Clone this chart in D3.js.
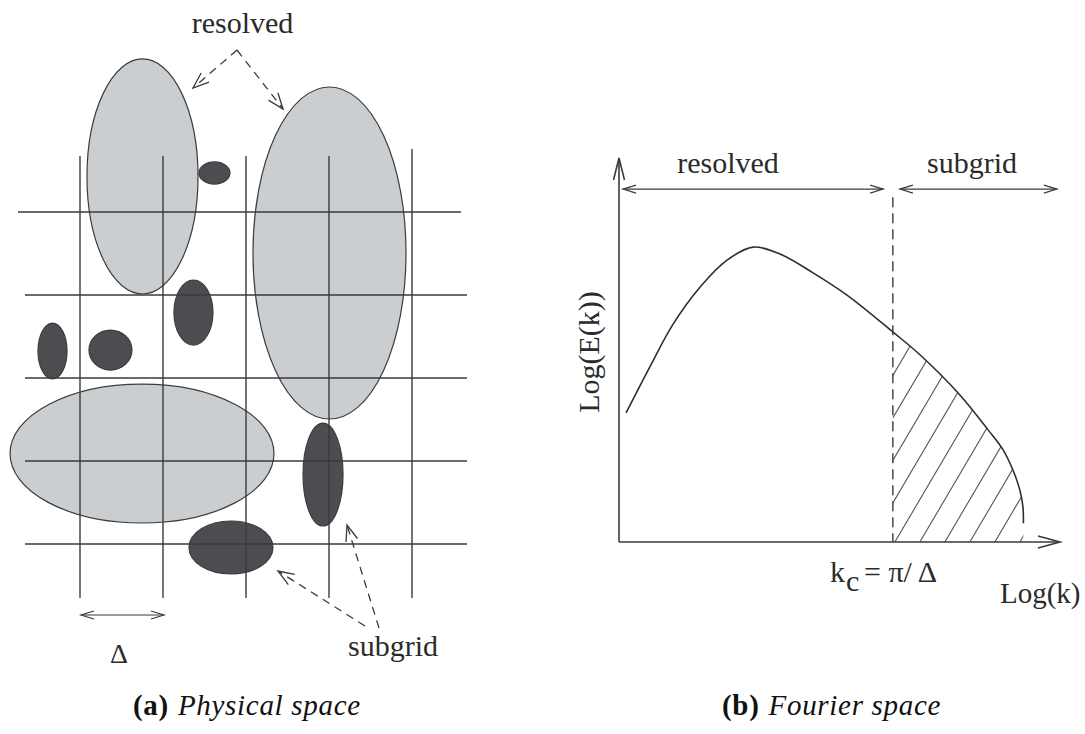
<!DOCTYPE html>
<html><head><meta charset="utf-8">
<script src="https://cdn.jsdelivr.net/npm/d3@7"></script>
<style>html,body{margin:0;padding:0;background:#fff;} svg{display:block;}</style>
</head><body>
<svg id="chart" width="1085" height="734"></svg>
<script>
// ---------- data ----------
// (a) physical space: grid lines in cell units, eddies in cell units
const gridIndex = [0, 1, 2, 3, 4];
const eddyKind = ["resolved","resolved","subgrid","subgrid","subgrid","subgrid","resolved","subgrid","subgrid"];
const eddyCx = [0.753, 3.006, 1.620, 1.367, -0.331, 0.367, 0.747, 2.928, 1.819];
const eddyCy = [-0.428, 0.494, -0.470, 1.211, 1.675, 1.663, 2.910, 3.163, 4.042];
const eddyRx = [0.669, 0.922, 0.187, 0.235, 0.175, 0.259, 1.590, 0.241, 0.506];
const eddyRy = [1.416, 2.000, 0.133, 0.392, 0.337, 0.241, 0.837, 0.620, 0.319];
// (b) Fourier space: energy spectrum log(E) vs log(k), arbitrary units 0..100
const spectrumLogK = [1.6, 7.0, 12.2, 18.4, 24.5, 30.4, 36.5, 44.0, 51.7, 62.1, 68.3, 77.3, 83.7, 87.1, 89.3, 90.9, 91.6, 91.7];
const spectrumLogE = [33.6, 45.6, 56.6, 66.4, 73.4, 76.8, 75.0, 70.1, 64.3, 54.7, 48.7, 38.3, 29.2, 24.0, 18.8, 13.5, 9.1, 4.9];
const cutoffLogK = 62.1;
const labelsA = {top: "resolved", bottom: "subgrid", delta: "Δ"};
const labelsB = {resolved: "resolved", subgrid: "subgrid", yAxis: "Log(E(k))", xAxis: "Log(k)"};
const captionTags = ["(a)", "(b)"];
const captionTexts = ["Physical space", "Fourier space"];

// ---------- drawing ----------
const svg = d3.select("#chart");
const FONT = "'Liberation Serif','Times New Roman',serif";
const INK = "#2b2b2b";

function arrow(g, x1, y1, x2, y2, opt) {
  opt = Object.assign({dash: null, end: true, start: false, len: 14, half: 5, w: 1.3, color: "#3a3a3a"}, opt || {});
  g.append("line").attr("x1", x1).attr("y1", y1).attr("x2", x2).attr("y2", y2)
    .attr("stroke", opt.color).attr("stroke-width", opt.w)
    .attr("stroke-dasharray", opt.dash);
  const head = (tx, ty, fx, fy) => {
    const dx = tx - fx, dy = ty - fy, L = Math.hypot(dx, dy), ux = dx / L, uy = dy / L;
    const bx = tx - ux * opt.len, by = ty - uy * opt.len;
    g.append("path")
      .attr("d", `M${bx - uy * opt.half},${by + ux * opt.half}L${tx},${ty}L${bx + uy * opt.half},${by - ux * opt.half}`)
      .attr("fill", "none").attr("stroke", opt.color).attr("stroke-width", opt.w);
  };
  if (opt.end) head(x2, y2, x1, y1);
  if (opt.start) head(x1, y1, x2, y2);
}

// ----- panel (a) -----
const xA = d3.scaleLinear().domain([0, 4]).range([80, 412]);
const yA = d3.scaleLinear().domain([0, 4]).range([212, 544]);
const gA = svg.append("g");

const eddies = eddyKind.map((k, i) => ({kind: k, cx: eddyCx[i], cy: eddyCy[i], rx: eddyRx[i], ry: eddyRy[i]}));
gA.selectAll("ellipse").data(eddies).join("ellipse")
  .attr("cx", d => xA(d.cx)).attr("cy", d => yA(d.cy))
  .attr("rx", d => xA(d.rx) - xA(0)).attr("ry", d => yA(d.ry) - yA(0))
  .attr("fill", d => d.kind === "resolved" ? "#cbced1" : "#4b4d50")
  .attr("stroke", "#3c3c3c").attr("stroke-width", 1.2);

// grid
gA.selectAll("line.v").data(gridIndex).join("line").attr("class", "v")
  .attr("x1", d => xA(d)).attr("x2", d => xA(d))
  .attr("y1", d => d === 4 ? yA(-0.76) : yA(-0.675)).attr("y2", yA(4.65))
  .attr("stroke", "#3a3a3a").attr("stroke-width", 1.4);
gA.selectAll("line.h").data(gridIndex).join("line").attr("class", "h")
  .attr("y1", d => yA(d)).attr("y2", d => yA(d))
  .attr("x1", d => d === 0 ? xA(-0.747) : xA(-0.663)).attr("x2", d => d === 0 ? xA(4.59) : xA(4.663))
  .attr("stroke", "#3a3a3a").attr("stroke-width", 1.4);

// labels + arrows
gA.append("text").attr("x", 242.5).attr("y", 33).attr("text-anchor", "middle")
  .attr("font-family", FONT).attr("font-size", 30).attr("fill", INK).text(labelsA.top);
arrow(gA, 237, 50, 193, 88, {dash: "8,6", len: 16, half: 6});
arrow(gA, 237, 50, 283, 109, {dash: "8,6", len: 16, half: 6});

gA.append("text").attr("x", 348).attr("y", 656)
  .attr("font-family", FONT).attr("font-size", 30).attr("fill", INK).text(labelsA.bottom);
arrow(gA, 365, 626, 278, 571, {dash: "8,6", len: 16, half: 6});
arrow(gA, 379, 628, 347, 525, {dash: "8,6", len: 16, half: 6});

arrow(gA, xA(0) + 1, 615, xA(1) + 1, 615, {start: true, len: 13, half: 4, w: 1.2});
gA.append("text").attr("x", 119).attr("y", 663).attr("text-anchor", "middle")
  .attr("font-family", FONT).attr("font-size", 28).attr("fill", INK).text(labelsA.delta);

// ----- panel (b) -----
const xB = d3.scaleLinear().domain([0, 100]).range([619, 1060]);
const yB = d3.scaleLinear().domain([0, 100]).range([542, 158]);
const gB = svg.append("g");
const pts = spectrumLogK.map((k, i) => [k, spectrumLogE[i]]);
const line = d3.line().x(d => xB(d[0])).y(d => yB(d[1])).curve(d3.curveCatmullRom.alpha(0.5));

// hatched subgrid region
const tail = pts.filter(d => d[0] >= cutoffLogK);
const areaPath = line(tail);
const defs = svg.append("defs");
defs.append("clipPath").attr("id", "subclip").append("path")
  .attr("d", areaPath + `L${xB(tail[tail.length - 1][0])},${yB(0)}L${xB(cutoffLogK)},${yB(0)}Z`);
const hatch = gB.append("g").attr("clip-path", "url(#subclip)");
const slope = 1.7, step = 25;
for (let x0 = xB(cutoffLogK) + 2 - step * 6; x0 < 1060; x0 += step) {
  hatch.append("line").attr("x1", x0).attr("y1", yB(0)).attr("x2", x0 + 260).attr("y2", yB(0) - 260 * slope)
    .attr("stroke", "#555").attr("stroke-width", 1.1);
}

gB.append("path").attr("d", line(pts)).attr("fill", "none").attr("stroke", "#2e2e2e").attr("stroke-width", 1.6);

// cutoff
gB.append("line").attr("x1", xB(cutoffLogK)).attr("x2", xB(cutoffLogK)).attr("y1", yB(89.8)).attr("y2", yB(0))
  .attr("stroke", "#3a3a3a").attr("stroke-width", 1.4).attr("stroke-dasharray", "10,6");

// axes
arrow(gB, xB(0), yB(0), xB(0), yB(100), {len: 22, half: 5.5, w: 1.6});
arrow(gB, xB(0), yB(0), xB(100), yB(0), {len: 22, half: 6, w: 1.6});

// range arrows
arrow(gB, xB(0.9), yB(91.9), xB(59.9), yB(91.9), {start: true, len: 13, half: 4, w: 1.2});
arrow(gB, xB(63.7), yB(91.9), xB(99.3), yB(91.9), {start: true, len: 13, half: 4, w: 1.2});
gB.append("text").attr("x", 728).attr("y", 173).attr("text-anchor", "middle")
  .attr("font-family", FONT).attr("font-size", 30).attr("fill", INK).text(labelsB.resolved);
gB.append("text").attr("x", 972).attr("y", 173).attr("text-anchor", "middle")
  .attr("font-family", FONT).attr("font-size", 30).attr("fill", INK).text(labelsB.subgrid);

gB.append("text").attr("transform", "translate(599,352) rotate(-90)").attr("text-anchor", "middle")
  .attr("font-family", FONT).attr("font-size", 30).attr("fill", INK).text(labelsB.yAxis);
gB.append("text").attr("x", 1000).attr("y", 603)
  .attr("font-family", FONT).attr("font-size", 29).attr("fill", INK).text(labelsB.xAxis);

gB.append("text").attr("x", 830).attr("y", 582).attr("font-family", FONT).attr("font-size", 30).attr("fill", INK).text("k");
gB.append("text").attr("x", 846).attr("y", 591).attr("font-family", FONT).attr("font-size", 30).attr("fill", INK).text("c");
gB.append("text").attr("x", 864).attr("y", 582).attr("font-family", FONT).attr("font-size", 30).attr("fill", INK).text("= π/ Δ");

// captions
const capX = [133, 722];
captionTags.forEach((t, i) => {
  const tx = svg.append("text").attr("x", capX[i]).attr("y", 715)
    .attr("font-family", FONT).attr("font-size", 29).attr("letter-spacing", 0.7).attr("fill", "#111");
  tx.append("tspan").attr("font-weight", "bold").text(t);
  tx.append("tspan").attr("font-style", "italic").attr("dx", 9).text(captionTexts[i]);
});
</script>
</body></html>
